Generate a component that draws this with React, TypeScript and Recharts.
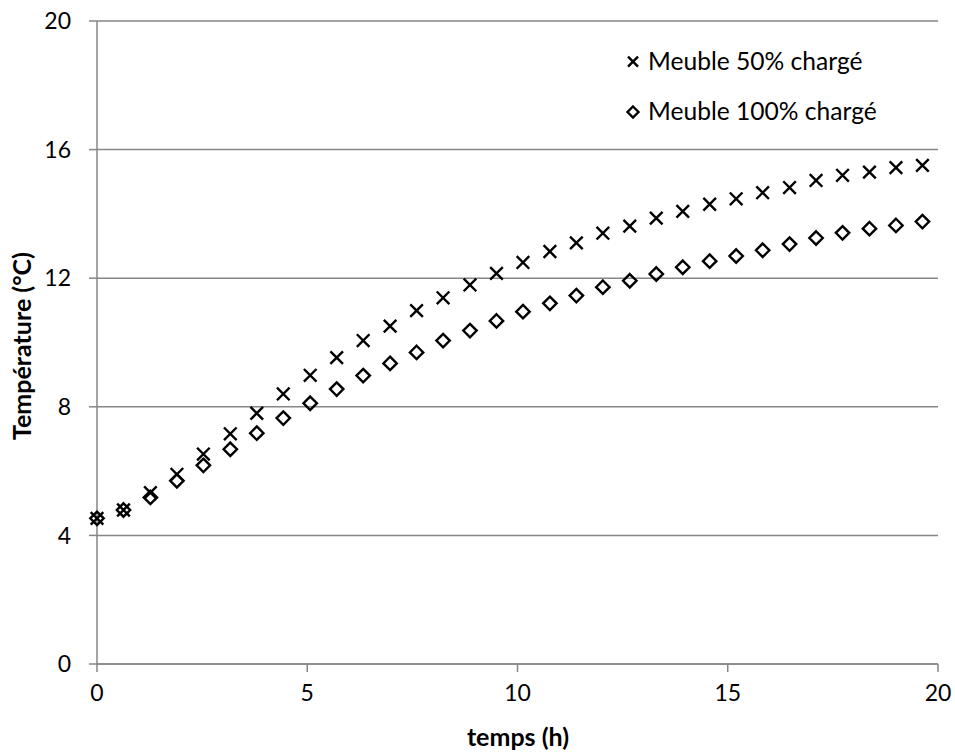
import React from 'react';
import { ScatterChart, Scatter, XAxis, YAxis, CartesianGrid, Legend } from 'recharts';

const timeH = [0, 0.63, 1.27, 1.9, 2.53, 3.17, 3.8, 4.43, 5.07, 5.7, 6.33, 6.97, 7.6, 8.23, 8.87, 9.5, 10.13, 10.77, 11.4, 12.03, 12.67, 13.3, 13.93, 14.57, 15.2, 15.83, 16.47, 17.1, 17.73, 18.37, 19.0, 19.63];
const temp50 = [4.53, 4.79, 5.33, 5.9, 6.53, 7.16, 7.8, 8.4, 8.98, 9.53, 10.06, 10.51, 10.99, 11.39, 11.79, 12.15, 12.49, 12.83, 13.1, 13.4, 13.62, 13.87, 14.08, 14.3, 14.47, 14.66, 14.82, 15.04, 15.2, 15.3, 15.44, 15.51];
const temp100 = [4.53, 4.79, 5.18, 5.7, 6.18, 6.68, 7.18, 7.65, 8.11, 8.55, 8.97, 9.35, 9.69, 10.06, 10.37, 10.67, 10.96, 11.22, 11.46, 11.72, 11.92, 12.13, 12.34, 12.53, 12.69, 12.87, 13.06, 13.25, 13.41, 13.54, 13.64, 13.76];
const xTicks = [0, 5, 10, 15, 20];
const yTicks = [0, 4, 8, 12, 16, 20];
const seriesNames = ['Meuble 50% chargé', 'Meuble 100% chargé'];
const xTitle = 'temps (h)';
const yTitle = 'Température (°C)';

const data50 = timeH.map((t, i) => ({ t, v: temp50[i] }));
const data100 = timeH.map((t, i) => ({ t, v: temp100[i] }));

const FONT = 'Lato, "Open Sans", sans-serif';
const GRID = '#868686';

const xPath = (cx: number, cy: number, r: number) =>
  `M${cx - r},${cy - r}L${cx + r},${cy + r}M${cx - r},${cy + r}L${cx + r},${cy - r}`;
const dPath = (cx: number, cy: number, r: number) =>
  `M${cx},${cy - r}L${cx + r},${cy}L${cx},${cy + r}L${cx - r},${cy}Z`;

const XShape = (props: any) => {
  const { cx, cy } = props;
  if (cx == null || cy == null) return null;
  return <path d={xPath(cx, cy, 6.3)} stroke="#000" strokeWidth={2.4} fill="none" />;
};
const DShape = (props: any) => {
  const { cx, cy } = props;
  if (cx == null || cy == null) return null;
  return <path d={dPath(cx, cy, 6.7)} stroke="#000" strokeWidth={2.4} fill="none" strokeLinejoin="miter" />;
};

const LegendContent = () => (
  <svg width={340} height={100} style={{ display: 'block' }}>
    <path d={xPath(13, 21.7, 5)} stroke="#000" strokeWidth={2.4} fill="none" />
    <text x={28} y={29.5} fontFamily={FONT} fontSize={24.6} fill="#000">{seriesNames[0]}</text>
    <path d={dPath(13, 72, 5.5)} stroke="#000" strokeWidth={2.4} fill="none" />
    <text x={28} y={80} fontFamily={FONT} fontSize={24.6} fill="#000">{seriesNames[1]}</text>
  </svg>
);

export default function App() {
  return (
    <div style={{ position: 'absolute', left: 0, top: 0, width: 955, height: 753, background: '#fff' }}>
      <ScatterChart width={955} height={753} margin={{ top: 21, right: 17, bottom: 0, left: 37 }}>
        <CartesianGrid horizontal={true} vertical={false} stroke={GRID} strokeWidth={1.5} />
        <XAxis
          type="number"
          dataKey="t"
          domain={[0, 20]}
          ticks={xTicks}
          interval={0}
          height={89}
          stroke={GRID}
          strokeWidth={1.5}
          tickSize={8}
          tickMargin={13}
          tick={{ fill: '#000', fontFamily: FONT, fontSize: 23 }}
          label={{
            content: () => (
              <text x={518} y={746} textAnchor="middle" fontFamily={FONT} fontWeight="bold" fontSize={25} fill="#000">
                {xTitle}
              </text>
            ),
          }}
        />
        <YAxis
          type="number"
          dataKey="v"
          domain={[0, 20]}
          ticks={yTicks}
          interval={0}
          width={60}
          stroke={GRID}
          strokeWidth={1.5}
          tickSize={8}
          tickMargin={18}
          tick={{ fill: '#000', fontFamily: FONT, fontSize: 23 }}
          label={{
            content: () => (
              <text
                x={31}
                y={346}
                transform="rotate(-90 31 346)"
                textAnchor="middle"
                fontFamily={FONT}
                fontWeight="bold"
                fontSize={25}
                fill="#000"
              >
                {yTitle}
              </text>
            ),
          }}
        />
        <Legend
          layout="horizontal"
          verticalAlign="middle"
          align="center"
          wrapperStyle={{ position: 'absolute', left: 620, top: 40, width: 340, height: 100 }}
          content={<LegendContent />}
        />
        <Scatter name={seriesNames[0]} data={data50} shape={<XShape />} isAnimationActive={false} />
        <Scatter name={seriesNames[1]} data={data100} shape={<DShape />} isAnimationActive={false} />
      </ScatterChart>
    </div>
  );
}
